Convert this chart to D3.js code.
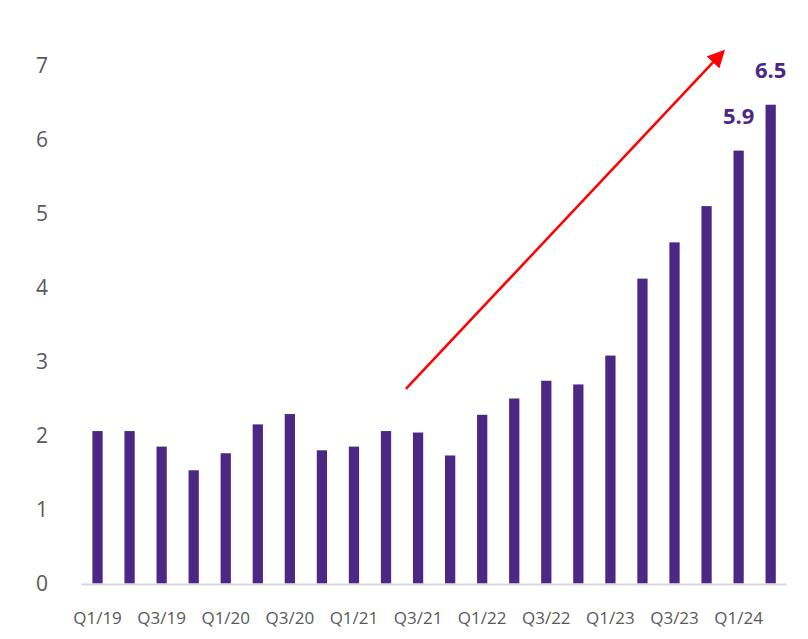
<!DOCTYPE html>
<html>
<head>
<meta charset="utf-8">
<script src="https://cdnjs.cloudflare.com/ajax/libs/d3/7.8.5/d3.min.js"></script>
<style>
body { margin: 0; background: #fff; }
svg { display: block; font-family: "Open Sans", "Noto Sans", sans-serif; }
</style>
</head>
<body>
<div id="chart"></div>
<script>
var quarters = ["Q1/19","Q2/19","Q3/19","Q4/19","Q1/20","Q2/20","Q3/20","Q4/20",
  "Q1/21","Q2/21","Q3/21","Q4/21","Q1/22","Q2/22","Q3/22","Q4/22",
  "Q1/23","Q2/23","Q3/23","Q4/23","Q1/24","Q2/24"];
var values = [2.06, 2.06, 1.85, 1.53, 1.76, 2.15, 2.29, 1.80,
  1.85, 2.06, 2.04, 1.73, 2.28, 2.50, 2.74, 2.69,
  3.08, 4.12, 4.61, 5.10, 5.85, 6.47];
var valueLabels = {"Q1/24": "5.9", "Q2/24": "6.5"};
var yTicks = [0, 1, 2, 3, 4, 5, 6, 7];
// trend arrow, in (bar index, value) units
var arrowFrom = [9.62, 2.63];
var arrowTo = [19.5, 7.18];

var width = 808, height = 639;
var barColor = "#4b2884";
var textGray = "#595959";

var svg = d3.select("#chart").append("svg")
  .attr("width", width)
  .attr("height", height);

var x = d3.scaleBand()
  .domain(quarters)
  .range([81.5, 786.7])
  .paddingInner(0.68)
  .paddingOuter(0.34);

var y = d3.scaleLinear()
  .domain([0, 7])
  .range([583.5, 65.5]);

// index -> x centre, for the arrow
var xi = d3.scaleLinear()
  .domain([0, quarters.length - 1])
  .range([x(quarters[0]) + x.bandwidth() / 2, x(quarters[quarters.length - 1]) + x.bandwidth() / 2]);

// y axis labels
svg.append("g").selectAll("text")
  .data(yTicks)
  .join("text")
  .attr("x", 48)
  .attr("y", function(d) { return y(d); })
  .attr("dy", "0.36em")
  .attr("text-anchor", "end")
  .attr("fill", textGray)
  .style("font-size", "21px")
  .text(function(d) { return d; });

// bars
svg.append("g").selectAll("rect")
  .data(values)
  .join("rect")
  .attr("x", function(d, i) { return x(quarters[i]); })
  .attr("width", x.bandwidth())
  .attr("y", function(d) { return y(d); })
  .attr("height", function(d) { return y(0) - y(d); })
  .attr("fill", barColor);

// baseline
svg.append("line")
  .attr("x1", x.range()[0])
  .attr("x2", x.range()[1])
  .attr("y1", y(0) + 1)
  .attr("y2", y(0) + 1)
  .attr("stroke", "#d9d9d9")
  .attr("stroke-width", 2);

// x labels, every second quarter
svg.append("g").selectAll("text")
  .data(quarters.filter(function(d, i) { return i % 2 === 0; }))
  .join("text")
  .attr("x", function(d) { return x(d) + x.bandwidth() / 2; })
  .attr("y", 624)
  .attr("text-anchor", "middle")
  .attr("fill", textGray)
  .style("font-size", "17px")
  .text(function(d) { return d; });

// value labels on the last two bars
svg.append("g").selectAll("text")
  .data(quarters.filter(function(d) { return valueLabels[d]; }))
  .join("text")
  .attr("x", function(d) { return x(d) + x.bandwidth() / 2; })
  .attr("y", function(d) { return y(values[quarters.indexOf(d)]) - 27; })
  .attr("text-anchor", "middle")
  .attr("fill", barColor)
  .style("font-size", "22px")
  .style("font-weight", "bold")
  .text(function(d) { return valueLabels[d]; });

// red arrow
svg.append("defs").append("marker")
  .attr("id", "head")
  .attr("viewBox", "0 0 10 10")
  .attr("refX", 8)
  .attr("refY", 5)
  .attr("markerWidth", 7)
  .attr("markerHeight", 7)
  .attr("markerUnits", "strokeWidth")
  .attr("orient", "auto")
  .append("path")
  .attr("d", "M0,0L10,5L0,10z")
  .attr("fill", "#ff0000");

svg.append("line")
  .attr("x1", xi(arrowFrom[0]))
  .attr("y1", y(arrowFrom[1]))
  .attr("x2", xi(arrowTo[0]))
  .attr("y2", y(arrowTo[1]))
  .attr("stroke", "#ff0000")
  .attr("stroke-width", 2.5)
  .attr("marker-end", "url(#head)");
</script>
</body>
</html>
